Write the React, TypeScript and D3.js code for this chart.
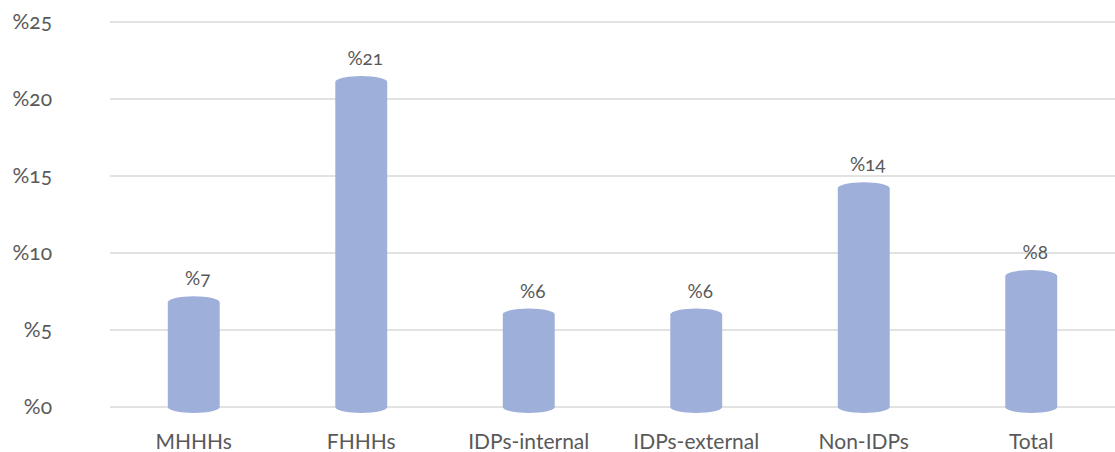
import * as d3 from "d3";

const categories = ["MHHHs", "FHHHs", "IDPs-internal", "IDPs-external", "Non-IDPs", "Total"];
const values = [6.8, 21.1, 6.0, 6.0, 14.2, 8.5];
const valueLabels = ["%7", "%21", "%6", "%6", "%14", "%8"];
const yTicks = [0, 5, 10, 15, 20, 25];

const W = 1115;
const H = 452;
const FONT = "Lato, 'Open Sans', sans-serif";
const TEXT = "#595959";
const BAR = "#9eafda";

const App = () => {
  const x = d3.scaleBand<string>().domain(categories).range([110, W]).padding(0);
  const y = d3.scaleLinear().domain([0, 25]).range([407, 22]);
  const barW = x.bandwidth() * 0.31;
  const ry = 6;

  // cylinder: flat body with elliptical cap on top and rounded bottom
  const cylinder = (cx: number, top: number, bottom: number) => {
    const l = cx - barW / 2;
    const r = cx + barW / 2;
    return (
      `M${l},${top} A${barW / 2},${ry} 0 0 1 ${r},${top}` +
      ` L${r},${bottom} A${barW / 2},${ry} 0 0 1 ${l},${bottom} Z`
    );
  };

  return (
    <>
      <style>{"body{margin:0}"}</style>
      <svg width={W} height={H} style={{ display: "block", fontFamily: FONT }}>
        {yTicks.map((t) => (
          <g key={t}>
            <line x1={110} x2={W} y1={y(t)} y2={y(t)} stroke="#d9d9d9" strokeWidth={1.5} />
            <text
              x={52}
              y={y(t)}
              dy="0.35em"
              textAnchor="end"
              fontSize={21}
              fill={TEXT}
              style={{ fontVariantNumeric: "oldstyle-nums" }}
            >
              {"%" + t}
            </text>
          </g>
        ))}
        {categories.map((c, i) => {
          const cx = (x(c) ?? 0) + x.bandwidth() / 2;
          const top = y(values[i]);
          return (
            <g key={c}>
              <path d={cylinder(cx, top, y(0))} fill={BAR} />
              <text
                x={cx + 4}
                y={top - 17}
                textAnchor="middle"
                fontSize={19}
                fill={TEXT}
                style={{ fontVariantNumeric: "oldstyle-nums" }}
              >
                {valueLabels[i]}
              </text>
              <text x={cx} y={449} textAnchor="middle" fontSize={21} fill={TEXT}>
                {c}
              </text>
            </g>
          );
        })}
      </svg>
    </>
  );
};

export default App;
